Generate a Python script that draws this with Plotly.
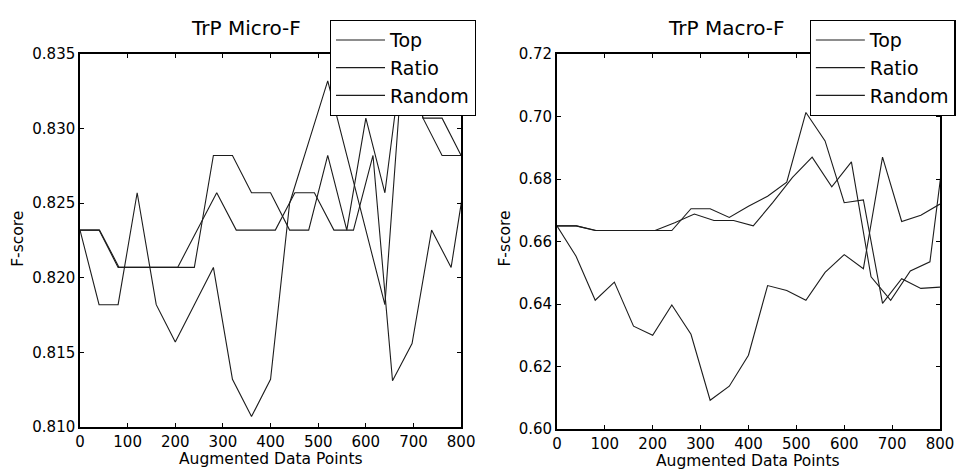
import plotly.graph_objects as go

# x positions (augmented data points); the Ratio runs were sampled on a slightly wider step
x_grid = [0, 40, 80, 120, 160, 200, 240, 280, 320, 360, 400,
          440, 480, 520, 560, 600, 640, 680, 720, 760, 800]
x_ratio = [0, 41, 82, 123, 164, 205, 246, 287, 328, 369, 410,
           451, 492, 533, 574, 615, 656, 697, 738, 779, 820]

# TrP Micro-F
micro_top = [0.8232, 0.8232, 0.8207, 0.8207, 0.8207, 0.8207, 0.8207, 0.8282, 0.8282, 0.8257, 0.8257,
             0.8232, 0.8232, 0.8282, 0.8232, 0.8307, 0.8257, 0.8357, 0.8307, 0.8282, 0.8282]
micro_ratio = [0.8232, 0.8232, 0.8207, 0.8207, 0.8207, 0.8207, 0.8232, 0.8257, 0.8232, 0.8232, 0.8232,
               0.8257, 0.8257, 0.8232, 0.8232, 0.8282, 0.8131, 0.8156, 0.8232, 0.8207, 0.8290]
micro_random = [0.8232, 0.8182, 0.8182, 0.8257, 0.8182, 0.8157, 0.8182, 0.8207, 0.8132, 0.8107, 0.8132,
                0.8250, 0.8291, 0.8332, 0.8282, 0.8232, 0.8182, 0.8357, 0.8307, 0.8307, 0.8282]

# TrP Macro-F
macro_top = [0.665, 0.665, 0.6635, 0.6635, 0.6635, 0.6635, 0.6635, 0.6705, 0.6705, 0.6677, 0.6713,
             0.6745, 0.6790, 0.7013, 0.6922, 0.6724, 0.6733, 0.6402, 0.6481, 0.6450, 0.6454]
macro_ratio = [0.665, 0.665, 0.6635, 0.6635, 0.6635, 0.6635, 0.6660, 0.6688, 0.6667, 0.6667, 0.6650,
               0.6725, 0.6805, 0.6870, 0.6775, 0.6855, 0.6487, 0.6412, 0.6506, 0.6535, 0.7033]
macro_random = [0.665, 0.6553, 0.6412, 0.6470, 0.6329, 0.6300, 0.6397, 0.6303, 0.6092, 0.6137, 0.6236,
                0.6459, 0.6443, 0.6412, 0.6501, 0.6558, 0.6513, 0.6870, 0.6664, 0.6684, 0.6720]

names = ["Top", "Ratio", "Random"]
ink = "#1c1c1c"
font = "DejaVu Sans"

fig = go.Figure()

for ys, xs, nm in zip([micro_top, micro_ratio, micro_random], [x_grid, x_ratio, x_grid], names):
    fig.add_trace(go.Scatter(x=xs, y=ys, mode="lines", name=nm, legend="legend",
                             line=dict(color=ink, width=1.1), xaxis="x", yaxis="y"))
for ys, xs, nm in zip([macro_top, macro_ratio, macro_random], [x_grid, x_ratio, x_grid], names):
    fig.add_trace(go.Scatter(x=xs, y=ys, mode="lines", name=nm, legend="legend2",
                             line=dict(color=ink, width=1.1), xaxis="x2", yaxis="y2"))

ax = dict(showline=True, linecolor="black", linewidth=1.5, mirror="allticks", ticks="inside",
          ticklen=4, tickcolor="black", showgrid=False, zeroline=False, automargin=False,
          tickfont=dict(family=font, size=15, color="black"))

# target plot area on the page: x 80..951 px, y 44..429 px (page body adds 8 px)
W, L, T, H = 871, 80, 44, 385


def px(x):
    return (x - L) / W


def py(y):
    return (T + H - y) / H


fig.update_layout(
    template="none",
    width=960, height=461, margin=dict(l=72, r=17, t=36, b=40),
    paper_bgcolor="white", plot_bgcolor="white",
    font=dict(family=font, color="black"),
    xaxis=dict(ax, domain=[0, px(466)], range=[0, 800], dtick=100, anchor="y"),
    yaxis=dict(ax, domain=[py(427), 1], range=[0.810, 0.835], dtick=0.005, tickformat=".3f", anchor="x"),
    xaxis2=dict(ax, domain=[px(563), 1], range=[0, 800], dtick=100, anchor="y2"),
    yaxis2=dict(ax, domain=[0, 1], range=[0.60, 0.72], dtick=0.02, tickformat=".2f", anchor="x2"),
    legend=dict(x=px(333), y=py(9), xanchor="left", yanchor="top", bgcolor="white",
                bordercolor="black", borderwidth=1.2, font=dict(size=19), itemwidth=49,
                tracegroupgap=0),
    legend2=dict(x=px(819), y=py(9), xanchor="left", yanchor="top", bgcolor="white",
                 bordercolor="black", borderwidth=1.2, font=dict(size=19), itemwidth=49,
                 tracegroupgap=0),
    annotations=[
        dict(text="TrP Micro-F", x=px(248), y=py(17), font=dict(size=20)),
        dict(text="TrP Macro-F", x=px(735), y=py(17), font=dict(size=20)),
        dict(text="Augmented Data Points", x=px(273), y=py(460), font=dict(size=15.5), borderpad=0),
        dict(text="Augmented Data Points", x=px(757), y=py(461.5), font=dict(size=15.5), borderpad=0),
        dict(text="F-score", x=px(17), y=py(234), textangle=-90, font=dict(size=15.5)),
        dict(text="F-score", x=px(511), y=py(234), textangle=-90, font=dict(size=15.5)),
    ],
)
fig.update_annotations(xref="paper", yref="paper", showarrow=False, xanchor="center", yanchor="middle")

fig.write_html("out.html")
